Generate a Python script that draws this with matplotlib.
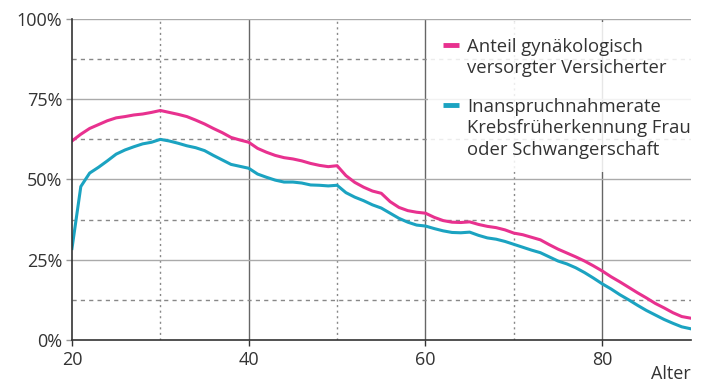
import matplotlib.pyplot as plt
from matplotlib.lines import Line2D
from matplotlib.patches import Rectangle

plt.rcParams['font.family'] = ['Open Sans', 'DejaVu Sans']

alter = list(range(20, 91))
anteil = [62.0, 64.1, 65.9, 67.1, 68.3, 69.2, 69.6, 70.1, 70.4, 70.9,
          71.5, 70.9, 70.3, 69.6, 68.5, 67.3, 65.9, 64.6, 63.1, 62.3,
          61.6, 59.7, 58.5, 57.5, 56.8, 56.4, 55.8, 55.0, 54.4, 54.0,
          54.3, 51.2, 49.1, 47.6, 46.4, 45.7, 43.1, 41.3, 40.3, 39.8,
          39.5, 38.2, 37.2, 36.7, 36.6, 36.8, 36.0, 35.4, 35.0, 34.3,
          33.3, 32.8, 32.0, 31.2, 29.7, 28.3, 27.1, 25.9, 24.6, 23.1,
          21.5, 19.7, 18.1, 16.4, 14.7, 13.1, 11.4, 10.0, 8.5, 7.3, 6.8]
rate = [28.5, 47.8, 52.0, 53.8, 55.8, 57.9, 59.2, 60.2, 61.1, 61.6,
        62.5, 62.0, 61.3, 60.5, 59.9, 59.0, 57.5, 56.1, 54.7, 54.1,
        53.5, 51.7, 50.7, 49.8, 49.2, 49.2, 48.9, 48.3, 48.2, 48.0,
        48.2, 45.9, 44.5, 43.4, 42.1, 41.1, 39.5, 37.9, 36.7, 35.8,
        35.5, 34.7, 34.0, 33.5, 33.4, 33.6, 32.6, 31.8, 31.4, 30.7,
        29.8, 28.9, 28.0, 27.2, 25.9, 24.6, 23.7, 22.5, 21.0, 19.3,
        17.5, 15.9, 14.1, 12.5, 10.8, 9.2, 7.8, 6.4, 5.2, 4.1, 3.5]
labels = ['Anteil gynäkologisch\nversorgter Versicherter',
          'Inanspruchnahmerate\nKrebsfrüherkennung Frau\noder Schwangerschaft']
pink = '#e8318f'
blue = '#1ba3c1'
txt = '#333333'

W, H = 707, 383
fig = plt.figure(figsize=(W / 100, H / 100), dpi=100)
ax = fig.add_axes([0.1018, 0.1123, 0.875, 0.8381])

# grid
for x in [40, 60, 80]:
    ax.axvline(x, color='#666666', lw=1.0, zorder=1)
for x in [30, 50, 70]:
    ax.axvline(x, color='#888888', lw=1.0, ls=(0, (1.5, 2.5)), zorder=1)
for y in [25, 50, 75, 100]:
    ax.axhline(y, color='#aaaaaa', lw=1.0, zorder=1)
for y in [12.5, 37.5, 62.5, 87.5]:
    ax.axhline(y, color='#888888', lw=1.0, ls=(0, (3, 3)), zorder=1)

ax.plot(alter, anteil, color=pink, lw=2.2, zorder=3)
ax.plot(alter, rate, color=blue, lw=2.2, zorder=3)

ax.set_xlim(20, 90)
ax.set_ylim(0, 100)
ax.set_xticks([20, 40, 60, 80])
ax.set_yticks([0, 25, 50, 75, 100])
ax.set_yticklabels(['0%', '25%', '50%', '75%', '100%'])
ax.tick_params(axis='both', labelsize=13, colors=txt, length=4, width=1, pad=3)
ax.tick_params(axis='y', colors='#999999', labelcolor=txt)
ax.tick_params(axis='x', colors='#333333', labelcolor=txt, pad=4)

for s in ['top', 'right']:
    ax.spines[s].set_visible(False)
for s in ['left', 'bottom']:
    ax.spines[s].set_color('#333333')
    ax.spines[s].set_linewidth(1.2)
    ax.spines[s].set_zorder(4)

fig.text(0.977, 0.0, 'Alter', ha='right', va='bottom', fontsize=13, color=txt)

# legend drawn by hand so the swatch sits on the first line of each label
ax.add_patch(Rectangle((428 / W, 1 - 172 / H), (691 - 428) / W, 150 / H,
                       transform=fig.transFigure, facecolor='white', alpha=0.85,
                       edgecolor='none', zorder=2))
line_h = 21.7
first_base = [51.7, 111.7]
for lab, col, yb in zip(labels, [pink, blue], first_base):
    fig.add_artist(Line2D([443 / W, 459 / W], [1 - (yb - 7) / H] * 2,
                          color=col, lw=3.5, solid_capstyle='butt'))
    for j, line in enumerate(lab.split('\n')):
        fig.text(467 / W, 1 - (yb + j * line_h) / H, line, ha='left',
                 va='baseline', fontsize=13.3, color=txt)

fig.savefig('out.png', dpi=100)
